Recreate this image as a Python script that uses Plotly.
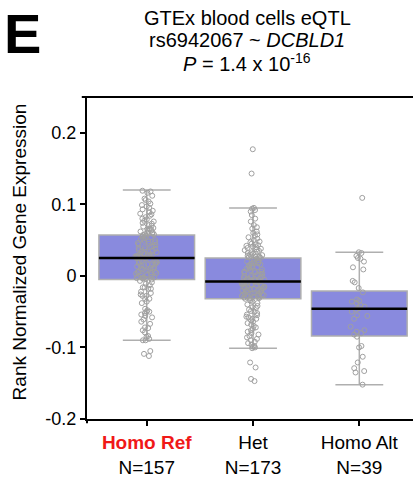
import plotly.graph_objects as go

groups = ["Homo Ref", "Het", "Homo Alt"]
counts = [157, 173, 39]
tick_text = ['<span style="color:#f01818"><b>Homo Ref</b></span><br>N=157', 'Het<br>N=173', 'Homo Alt<br>N=39']

q1 = [-0.005, -0.032, -0.084]
median = [0.025, -0.008, -0.046]
q3 = [0.057, 0.025, -0.021]
lowerfence = [-0.090, -0.101, -0.152]
upperfence = [0.120, 0.095, 0.033]

homo_ref = [
    0.119, 0.118, 0.116, 0.112, 0.108, 0.106, 0.104, 0.101, 0.099, 0.097, 0.095, 0.093, 0.091,
    0.089, 0.087, 0.086, 0.084, 0.082, 0.080, 0.079, 0.077, 0.076, 0.074, 0.073, 0.071, 0.070,
    0.069, 0.067, 0.066, 0.065, 0.064, 0.063, 0.062, 0.061, 0.060, 0.059, 0.058, 0.058, 0.057,
    0.056, 0.055, 0.054, 0.053, 0.052, 0.051, 0.050, 0.049, 0.048, 0.047, 0.046, 0.045, 0.044,
    0.043, 0.042, 0.041, 0.040, 0.039, 0.038, 0.037, 0.036, 0.035, 0.034, 0.034, 0.033, 0.032,
    0.031, 0.030, 0.030, 0.029, 0.028, 0.028, 0.027, 0.027, 0.026, 0.026, 0.025, 0.025, 0.025,
    0.024, 0.023, 0.022, 0.021, 0.020, 0.019, 0.018, 0.017, 0.016, 0.015, 0.014, 0.013, 0.012,
    0.011, 0.010, 0.009, 0.008, 0.007, 0.006, 0.006, 0.005, 0.004, 0.003, 0.002, 0.001, 0.000,
    -0.001, -0.001, -0.002, -0.002, -0.003, -0.003, -0.004, -0.004, -0.005, 0.020, 0.015, 0.010, 0.005,
    -0.007, -0.009, -0.011, -0.013, -0.016, -0.016, -0.018, -0.018, -0.022, -0.024, -0.026, -0.028,
    -0.028, -0.032, -0.032, -0.036, -0.038, -0.046, -0.048, -0.050, -0.050, -0.052, -0.054, -0.056,
    -0.058, -0.061, -0.064, -0.067, -0.072, -0.073, -0.076, -0.079, -0.084, -0.085, -0.088, -0.090,
    -0.090, -0.105, -0.109, -0.112,
]
het = [
    0.177, 0.143, 0.095, 0.094, 0.092, 0.090, 0.085, 0.080, 0.076, 0.071, 0.068, 0.066, 0.062,
    0.060, 0.058, 0.056, 0.054, 0.052, 0.050, 0.048, 0.047, 0.045, 0.044, 0.043, 0.042, 0.041,
    0.040, 0.039, 0.038, 0.037, 0.036, 0.035, 0.034, 0.033, 0.032, 0.031, 0.030, 0.029, 0.028,
    0.027, 0.027, 0.026, 0.026,
    0.025, 0.024, 0.023, 0.022, 0.021, 0.020, 0.019, 0.018, 0.017, 0.016, 0.015, 0.014, 0.013,
    0.012, 0.011, 0.010, 0.009, 0.008, 0.007, 0.006, 0.005, 0.004, 0.003, 0.002, 0.001, 0.000,
    -0.001, -0.002, -0.003, -0.004, -0.004, -0.005, -0.005, -0.006, -0.006, -0.007, -0.007, -0.008,
    0.018, 0.012, 0.006, 0.000, -0.003,
    -0.009, -0.009, -0.010, -0.010, -0.011, -0.011, -0.012, -0.012, -0.013, -0.013, -0.014, -0.015,
    -0.015, -0.016, -0.017, -0.017, -0.018, -0.019, -0.019, -0.020, -0.021, -0.021, -0.022, -0.023,
    -0.023, -0.024, -0.025, -0.025, -0.026, -0.026, -0.027, -0.027, -0.028, -0.028, -0.029, -0.029,
    -0.030, -0.030, -0.031, -0.031, -0.032, -0.032, -0.016, -0.020,
    -0.034, -0.036, -0.038, -0.040, -0.042, -0.044, -0.045, -0.047, -0.049, -0.050, -0.052, -0.054,
    -0.055, -0.057, -0.058, -0.060, -0.062, -0.064, -0.066, -0.068, -0.070, -0.072, -0.074, -0.076,
    -0.078, -0.080, -0.082, -0.084, -0.086, -0.088, -0.090, -0.092, -0.094, -0.096, -0.098, -0.099,
    -0.100, -0.101, -0.121, -0.128, -0.144, -0.147, -0.060,
]
homo_alt = [
    0.109, 0.033, 0.032, 0.028, 0.025, 0.024, 0.020, 0.012, 0.009, -0.007, -0.009, -0.017, -0.023,
    -0.033, -0.035, -0.036, -0.038, -0.041, -0.043, -0.045, -0.047, -0.050, -0.055, -0.056, -0.060,
    -0.071, -0.076, -0.078, -0.080, -0.082, -0.085, -0.098, -0.100, -0.113, -0.121, -0.129, -0.133,
    -0.135, -0.152,
]
samples = [homo_ref, het, homo_alt]

y_tickvals = [-0.2, -0.1, 0, 0.1, 0.2]
y_ticktext = ["-0.2", "-0.1", "0", "0.1", "0.2"]

FONT = "Liberation Sans, Arial, sans-serif"
BOX_FILL = "rgb(137,138,222)"
GRAY = "rgb(175,175,175)"

fig = go.Figure()

fig.add_trace(go.Box(
    x=[0, 1, 2], q1=q1, median=median, q3=q3,
    lowerfence=lowerfence, upperfence=upperfence,
    fillcolor=BOX_FILL, line=dict(color=GRAY, width=1.5),
    width=0.9, whiskerwidth=0.5, boxpoints=False, hoverinfo="skip",
))

for i, vals in enumerate(samples):
    fig.add_trace(go.Box(
        x=[i] * len(vals), y=vals,
        boxpoints="all", jitter=0.24, pointpos=0, width=0.9,
        fillcolor="rgba(0,0,0,0)", line=dict(color="rgba(0,0,0,0)", width=0),
        marker=dict(symbol="circle-open", color="rgb(160,160,160)", size=5,
                    line=dict(width=1, color="rgb(160,160,160)")),
        hoverinfo="skip",
    ))

fig.add_trace(go.Box(
    x=[0, 1, 2], q1=median, median=median, q3=median,
    lowerfence=median, upperfence=median,
    fillcolor="rgba(0,0,0,0)", line=dict(color="black", width=2.5),
    width=0.9, whiskerwidth=0, boxpoints=False, hoverinfo="skip",
))

fig.update_layout(
    template="none",
    width=413, height=479,
    margin=dict(l=87, r=0, t=97, b=60, pad=0, autoexpand=False),
    paper_bgcolor="white", plot_bgcolor="white",
    showlegend=False, boxmode="overlay",
    font=dict(family=FONT, color="black"),
    xaxis=dict(
        range=[-0.562, 2.505], tickvals=[0, 1, 2], ticktext=tick_text,
        showline=True, linecolor="black", linewidth=2, automargin=False,
        ticks="outside", ticklen=5, tickwidth=2, tickcolor="black",
        showgrid=False, zeroline=False, tickfont=dict(size=19),
    ),
    yaxis=dict(
        range=[-0.2, 0.25], tickvals=y_tickvals, ticktext=y_ticktext,
        showline=True, linecolor="black", linewidth=2, automargin=False,
        ticks="outside", ticklen=5, tickwidth=2, tickcolor="black",
        showgrid=False, zeroline=False, tickfont=dict(size=18),
    ),
    shapes=[
        dict(type="line", xref="paper", yref="paper", x0=-0.016, x1=1, y0=1, y1=1,
             line=dict(color="black", width=2)),
        dict(type="line", xref="paper", yref="paper", x0=0, x1=0, y0=0, y1=-0.013,
             line=dict(color="black", width=2)),
    ],
    annotations=[
        dict(text="<b>E</b>", xref="paper", yref="paper", x=-0.262, y=1.196,
             xanchor="left", yanchor="middle", showarrow=False, font=dict(size=56)),
        dict(text="GTEx blood cells eQTL", xref="paper", yref="paper", x=0.4923, y=1.245,
             xanchor="center", yanchor="middle", showarrow=False, font=dict(size=20)),
        dict(text="rs6942067 ~ <i>DCBLD1</i>", xref="paper", yref="paper", x=0.4923, y=1.177,
             xanchor="center", yanchor="middle", showarrow=False, font=dict(size=20)),
        dict(text="<i>P</i> = 1.4 x 10<sup>-16</sup>", xref="paper", yref="paper", x=0.4923, y=1.108,
             xanchor="center", yanchor="middle", showarrow=False, font=dict(size=20)),
        dict(text="Rank Normalized Gene Expression", xref="paper", yref="paper", x=-0.206, y=0.52,
             xanchor="center", yanchor="middle", textangle=-90, showarrow=False, font=dict(size=19)),
    ],
)

fig.write_html(
    "out.html",
    config={"displayModeBar": False},
    post_script="document.body.style.margin='0';document.body.style.overflow='hidden';",
)
